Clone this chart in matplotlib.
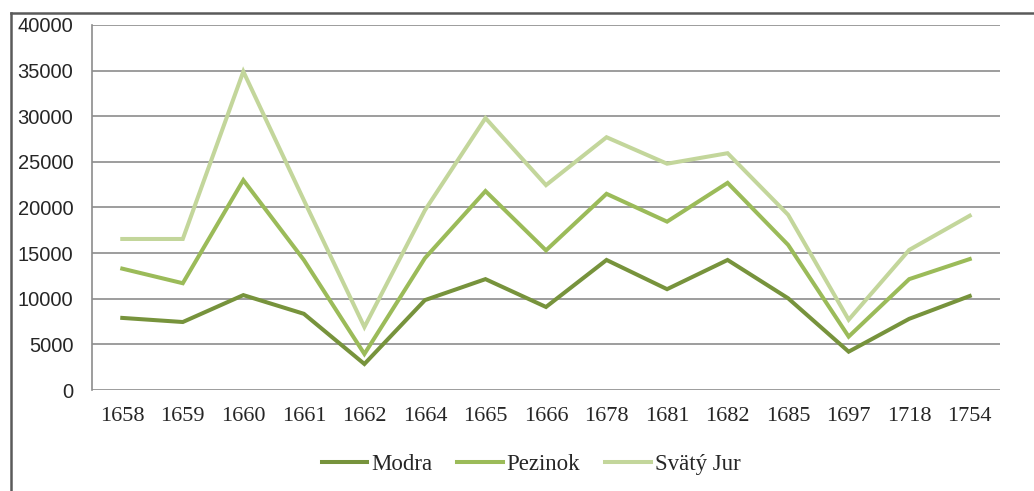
import matplotlib
matplotlib.use("Agg")
import matplotlib.pyplot as plt
from matplotlib.lines import Line2D

years = ["1658", "1659", "1660", "1661", "1662", "1664", "1665", "1666",
         "1678", "1681", "1682", "1685", "1697", "1718", "1754"]
modra = [7900, 7450, 10400, 8350, 2850, 9850, 12150, 9100,
         14250, 11050, 14250, 10050, 4200, 7800, 10300]
pezinok = [13300, 11700, 23000, 14250, 3950, 14450, 21800, 15300,
           21500, 18450, 22700, 15900, 5850, 12150, 14350]
svaty_jur = [16550, 16550, 34900, 20800, 6900, 19700, 29800, 22450,
             27700, 24800, 25950, 19200, 7700, 15350, 19100]
series_names = ["Modra", "Pezinok", "Svätý Jur"]
colors = ["#77933C", "#9BBB59", "#C3D69B"]
yticks = [0, 5000, 10000, 15000, 20000, 25000, 30000, 35000, 40000]

W, H = 1034, 491
fig = plt.figure(figsize=(W / 100, H / 100), dpi=100)
ax = fig.add_axes([92 / W, 1 - 390 / H, (1000 - 92) / W, (390 - 25) / H])

x = list(range(len(years)))
for vals, name, c in zip([modra, pezinok, svaty_jur], series_names, colors):
    ax.plot(x, vals, color=c, lw=2.9, label=name, solid_joinstyle="miter")

ax.set_xlim(-0.5, len(years) - 0.5)
ax.set_ylim(0, 40000)
ax.set_yticks(yticks)
ax.set_yticklabels([str(v) for v in yticks], family="Liberation Sans", fontsize=14.5, color="#262626")
ax.set_xticks(x)
ax.set_xticklabels(years, family="Liberation Serif", fontsize=16, color="#262626")
ax.tick_params(axis="both", length=0)
ax.tick_params(axis="y", pad=13.5)
ax.tick_params(axis="x", pad=12)
ax.grid(axis="y", color="#8c8c8c", lw=1.2)
ax.set_axisbelow(True)
for s in ["top", "right", "bottom"]:
    ax.spines[s].set_visible(False)
ax.spines["left"].set_color("#8c8c8c")
ax.spines["left"].set_linewidth(1.2)

leg = fig.legend(loc="center", bbox_to_anchor=(531 / W, 1 - 464 / H), ncol=3, frameon=False,
                 prop={"family": "Liberation Serif", "size": 16.5}, handlelength=2.0,
                 handletextpad=0.15, columnspacing=1.1)
for t in leg.get_texts():
    t.set_color("#262626")

# outer frame
fig.add_artist(Line2D([11 / W, 1.0], [1 - 13 / H, 1 - 13 / H], transform=fig.transFigure,
                      color="#5a5a5a", lw=1.8))
fig.add_artist(Line2D([11 / W, 11 / W], [0, 1 - 13 / H], transform=fig.transFigure,
                      color="#5a5a5a", lw=1.8))

fig.savefig("out.png", dpi=100)
